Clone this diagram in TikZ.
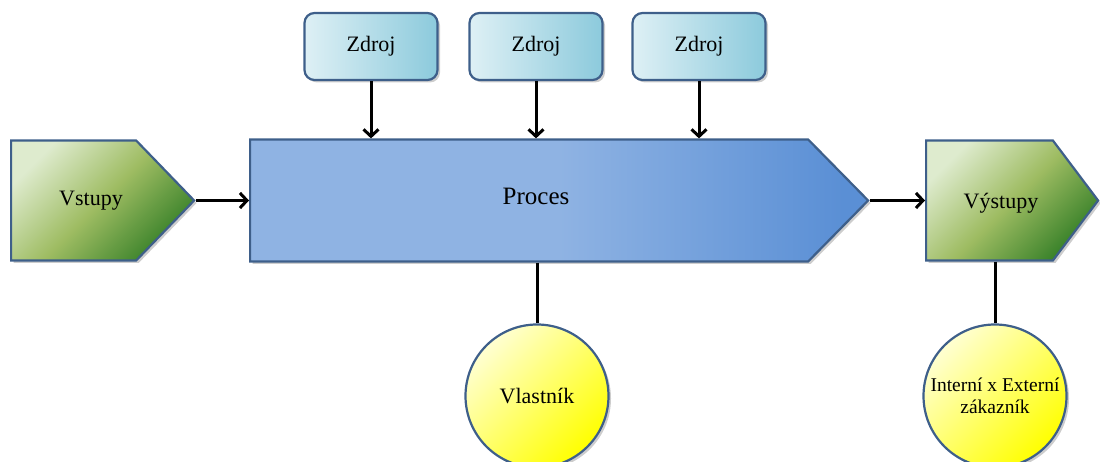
\documentclass[tikz,border=0pt]{standalone}
\usepackage{fontspec}
\setmainfont{Liberation Serif}
\usetikzlibrary{shapes.symbols,arrows.meta,shadows}

% palette
\definecolor{edge}{RGB}{62,95,138}
\definecolor{greenA}{RGB}{222,235,206}
\definecolor{greenB}{RGB}{158,188,98}
\definecolor{greenC}{RGB}{54,128,40}
\definecolor{blueA}{RGB}{143,179,227}
\definecolor{blueB}{RGB}{90,143,213}
\definecolor{cyanA}{RGB}{222,240,245}
\definecolor{cyanB}{RGB}{140,202,220}
\definecolor{yelA}{RGB}{255,255,210}
\definecolor{yelB}{RGB}{255,255,0}

% process bar: flat on the left, darkening towards the point
\pgfdeclarehorizontalshading{procshade}{100bp}{color(0bp)=(blueA); color(50bp)=(blueA); color(73bp)=(blueB); color(100bp)=(blueB)}

\tikzset{
  box/.style={draw=edge, line width=2.2pt,
    drop shadow={shadow xshift=2.5pt, shadow yshift=-2.5pt, opacity=0.28, fill=black!70}},
  greenfill/.style={top color=greenA, bottom color=greenC, middle color=greenB, shading angle=45},
  arrow/.style={line width=3pt, -{Straight Barb[length=7pt,width=15pt]}},
  link/.style={line width=3pt},
  lbl/.style={font=\fontsize{22}{26}\selectfont},
  source/.style={box, rounded corners=10pt, minimum width=133pt, minimum height=67pt,
    inner sep=0pt, left color=cyanA, right color=cyanB, lbl},
  owner/.style={box, circle, minimum size=143pt, inner sep=0pt,
    top color=yelA, bottom color=yelB, shading angle=45}
}

\begin{document}
\begin{tikzpicture}[x=1pt,y=1pt]
\useasboundingbox (0,0) rectangle (1100,462);

% inputs, process, outputs
\node[box, signal, signal to=east, signal pointer angle=92, minimum width=183pt,
      minimum height=120pt, inner sep=0pt, greenfill, anchor=west] (vstupy) at (10,261.5) {};
\node[box, signal, signal to=east, signal pointer angle=91, minimum width=618pt,
      minimum height=122pt, inner sep=0pt, shading=procshade, anchor=west] (proces) at (249,261.5) {};
\node[box, signal, signal to=east, signal pointer angle=106, minimum width=172pt,
      minimum height=120pt, inner sep=0pt, greenfill, anchor=west] (vystupy) at (925,261.5) {};

\node[lbl, anchor=base] (vstupy-text) at (91,256) {Vstupy};
\node[font=\fontsize{25}{29}\selectfont, anchor=base] (proces-text) at (536,257) {Proces};
\node[lbl, anchor=base] (vystupy-text) at (1001,253) {Výstupy};

% resources
\node[source] (zdroj1) at (371,415.5) {Zdroj};
\node[source] (zdroj2) at (536,415.5) {Zdroj};
\node[source] (zdroj3) at (699,415.5) {Zdroj};

% owner and customer
\node[owner, lbl] (vlastnik) at (537,66) {Vlastník};
\node[owner, font=\fontsize{19.5}{22}\selectfont, align=center] (zakaznik) at (995,66)
  {Interní x Externí\\zákazník};

% connectors
\draw[arrow] (vstupy.east) -- (proces.west);
\draw[arrow] (proces.east) -- (vystupy.west);
\foreach \z in {zdroj1,zdroj2,zdroj3}
  \draw[arrow] (\z.south) -- (\z.south |- proces.north);
\draw[link] (vlastnik.north |- proces.south) -- (vlastnik.north);
\draw[link] (zakaznik.north |- vystupy.south) -- (zakaznik.north);
\end{tikzpicture}
\end{document}
